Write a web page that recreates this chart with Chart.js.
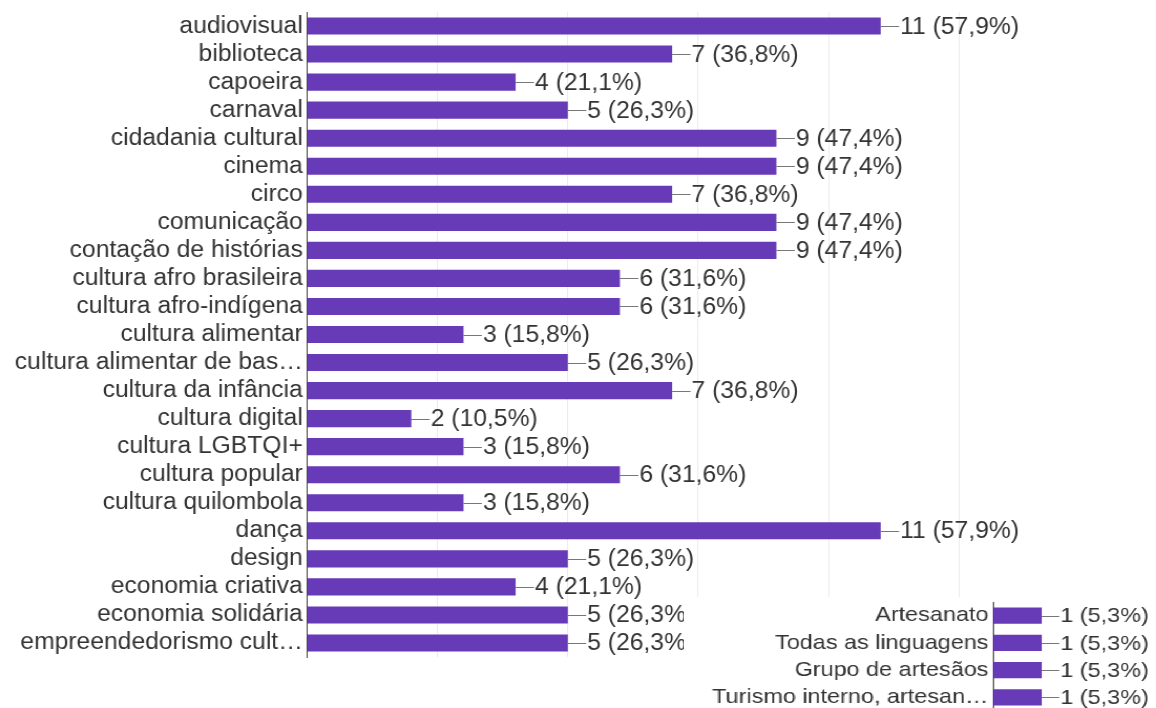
<!DOCTYPE html>
<html>
<head>
<meta charset="utf-8">
<script src="https://cdn.jsdelivr.net/npm/chart.js@4.4.1/dist/chart.umd.min.js"></script>
<style>
  html, body { margin: 0; padding: 0; background: #fff; overflow: hidden; }
  body { width: 1156px; height: 708px; position: relative; }
  /* the screenshot is a little stretched sideways, so draw narrower and scale in x */
  .stretch { position: absolute; transform-origin: 0 0; }
  #main-wrap { left: 0; top: 0; transform: scaleX(1.05); }
  #extra-wrap { left: 684px; top: 597px; background: #fff; transform: scaleX(1.115); }
</style>
</head>
<body>
<div id="main-wrap" class="stretch"><canvas id="main" width="1101" height="708"></canvas></div>
<div id="extra-wrap" class="stretch"><canvas id="extra" width="424" height="114"></canvas></div>
<script>
const categories = [
  "audiovisual", "biblioteca", "capoeira", "carnaval", "cidadania cultural",
  "cinema", "circo", "comunicação", "contação de histórias",
  "cultura afro brasileira", "cultura afro-indígena", "cultura alimentar",
  "cultura alimentar de bas…", "cultura da infância", "cultura digital",
  "cultura LGBTQI+", "cultura popular", "cultura quilombola", "dança",
  "design", "economia criativa", "economia solidária", "empreendedorismo cult…"
];
const counts = [11, 7, 4, 5, 9, 9, 7, 9, 9, 6, 6, 3, 5, 7, 2, 3, 6, 3, 11, 5, 4, 5, 5];
const percents = ["57,9", "36,8", "21,1", "26,3", "47,4", "47,4", "36,8", "47,4", "47,4",
  "31,6", "31,6", "15,8", "26,3", "36,8", "10,5", "15,8", "31,6", "15,8", "57,9",
  "26,3", "21,1", "26,3", "26,3"];

const extraCategories = ["Artesanato", "Todas as linguagens", "Grupo de artesãos", "Turismo interno, artesan…"];
const extraCounts = [1, 1, 1, 1];
const extraPercents = ["5,3", "5,3", "5,3", "5,3"];

const xTicks = [0, 2.5, 5, 7.5, 10, 12.5];

const PURPLE = "#673ab7";
const FONT = "'Liberation Sans', Arial, sans-serif";

// "—11 (57,9%)" labels at the end of each bar
const valueLabels = {
  id: "valueLabels",
  afterDatasetsDraw(chart, args, opts) {
    const ctx = chart.ctx;
    const meta = chart.getDatasetMeta(0);
    ctx.save();
    ctx.font = opts.size + "px " + FONT;
    ctx.fillStyle = "#333";
    ctx.strokeStyle = "#777";
    ctx.lineWidth = 1;
    ctx.textBaseline = "middle";
    meta.data.forEach((bar, i) => {
      const y = Math.round(bar.y) + 0.5;
      ctx.beginPath();
      ctx.moveTo(bar.x, y);
      ctx.lineTo(bar.x + opts.dash, y);
      ctx.stroke();
      ctx.fillText(opts.texts[i], bar.x + opts.dash + 1, bar.y + 1);
    });
    ctx.restore();
  }
};

function makeChart(id, labels, values, pcts, cfg) {
  return new Chart(document.getElementById(id), {
    type: "bar",
    data: {
      labels: labels,
      datasets: [{
        data: values,
        backgroundColor: PURPLE,
        borderWidth: 0,
        barPercentage: cfg.barPct,
        categoryPercentage: 1
      }]
    },
    options: {
      indexAxis: "y",
      responsive: false,
      animation: false,
      layout: { padding: cfg.padding },
      plugins: {
        legend: { display: false },
        tooltip: { enabled: false },
        valueLabels: {
          size: cfg.valueSize,
          dash: cfg.dash,
          texts: values.map((v, i) => v + " (" + pcts[i] + "%)")
        }
      },
      scales: {
        x: {
          min: 0,
          max: cfg.xMax,
          afterBuildTicks: (axis) => { axis.ticks = cfg.ticks.map(v => ({ value: v })); },
          ticks: { display: false },
          border: { display: false },
          grid: {
            display: cfg.grid,
            drawTicks: false,
            color: (c) => c.tick && c.tick.value === 0 ? "rgba(0,0,0,0)" : "#ebebeb"
          },
          afterFit: (axis) => {
            axis.height = 0;
            axis.paddingLeft = 0;
            axis.paddingRight = 0;
          }
        },
        y: {
          grid: { display: false, drawTicks: false },
          border: { display: true, color: "#444", width: 1 },
          ticks: {
            color: "#333",
            padding: 4,
            autoSkip: false,
            font: { family: FONT, size: cfg.labelSize }
          },
          afterFit: (axis) => {
            axis.width = cfg.axisWidth;
            axis.paddingTop = 0;
            axis.paddingBottom = 0;
          }
        }
      }
    },
    plugins: [valueLabels]
  });
}

makeChart("main", categories, counts, percents, {
  barPct: 0.61,
  padding: { top: 12, bottom: 51, left: 0, right: 187.7 },
  xMax: 12.5,
  ticks: xTicks,
  grid: true,
  axisWidth: 292.4,
  labelSize: 23.5,
  valueSize: 23.5,
  dash: 17.5
});

makeChart("extra", extraCategories, extraCounts, extraPercents, {
  barPct: 0.59,
  padding: { top: 5, bottom: 0, left: 0, right: 15 },
  xMax: 3,
  ticks: [0, 1, 2, 3],
  grid: false,
  axisWidth: 277.1,
  labelSize: 21,
  valueSize: 21,
  dash: 15.5
});
</script>
</body>
</html>
